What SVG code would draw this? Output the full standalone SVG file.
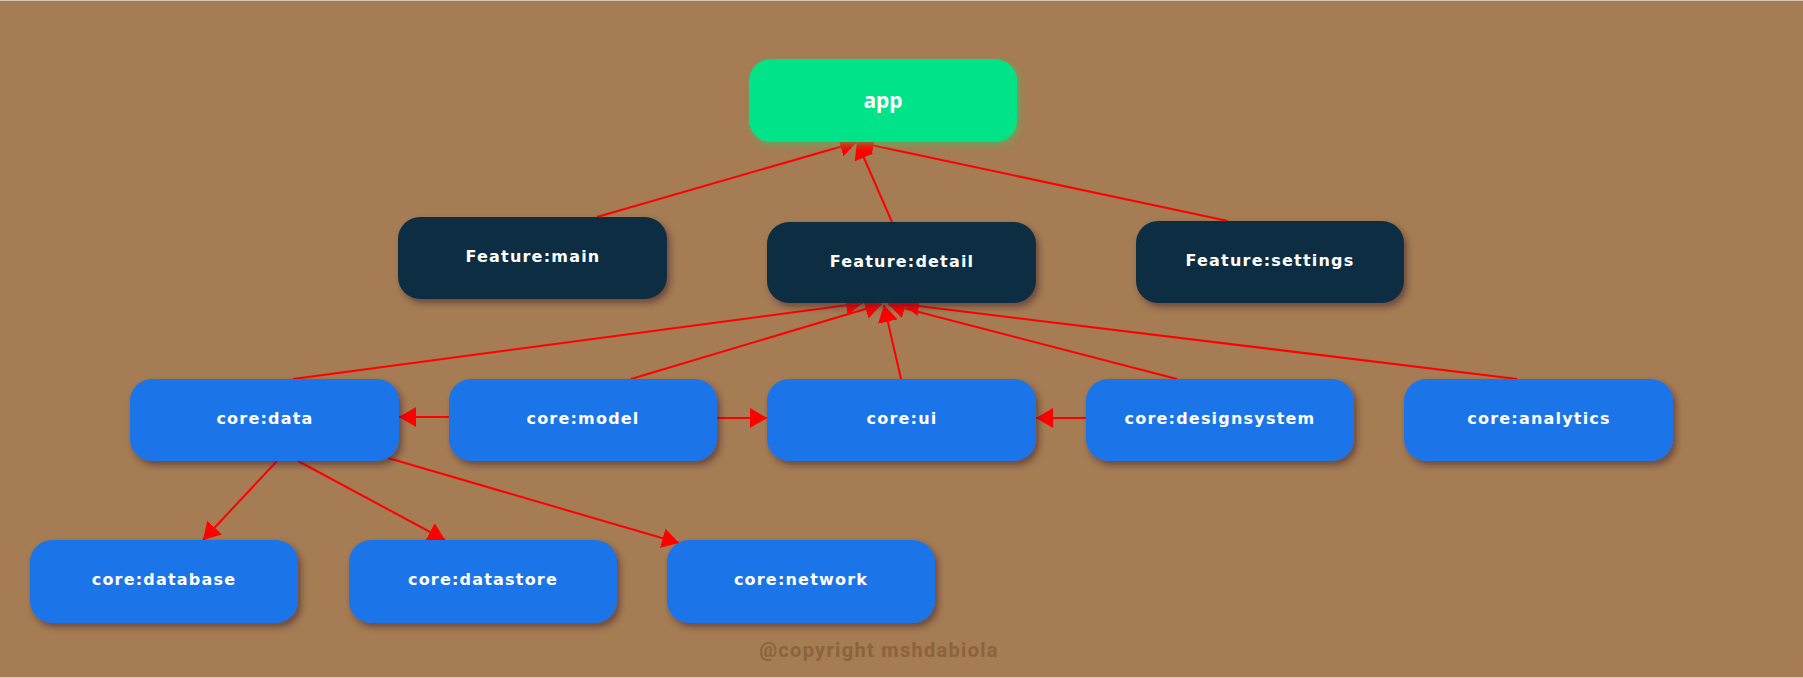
<svg xmlns="http://www.w3.org/2000/svg" width="1803" height="678" viewBox="0 0 1803 678">
  <style>
    .node-text { font-family: "DejaVu Sans", "Liberation Sans", sans-serif; font-weight: bold; font-size: 16px; letter-spacing: 1.2px; fill: #ffffff; text-anchor: middle; }
    .app-text { font-family: "Noto Sans", "DejaVu Sans", sans-serif; font-weight: bold; font-size: 21px; fill: #ffffff; text-anchor: middle; }
    .feature { fill: #082E42; filter: url(#shadow); }
    .core { fill: #1C74E8; filter: url(#shadow); }
    .app { fill: #00E389; filter: url(#glow); }
    .edge { stroke: #FF0000; stroke-width: 2; fill: none; marker-end: url(#arrow); }
    .copy { font-family: Roboto, "Liberation Sans", sans-serif; font-weight: bold; font-size: 20px; letter-spacing: 1.3px; fill: #8C633A; text-anchor: middle; }
  </style>
  <defs>
    <filter id="shadow" x="-10%" y="-20%" width="125%" height="150%">
      <feDropShadow dx="3" dy="4" stdDeviation="3" flood-color="#3b2230" flood-opacity="0.55"/>
    </filter>
    <filter id="glow" x="-10%" y="-20%" width="125%" height="150%">
      <feDropShadow dx="2" dy="3" stdDeviation="3" flood-color="#40c060" flood-opacity="0.6"/>
    </filter>
    <marker id="arrow" markerUnits="userSpaceOnUse" viewBox="0 0 17 20" refX="17" refY="10" markerWidth="17" markerHeight="20" orient="auto">
      <path d="M0,0 L17,10 L0,20 z" fill="#FF0000"/>
    </marker>
  </defs>

  <rect x="0" y="0" width="1803" height="678" fill="#A57C53"/>
  <rect x="0" y="0" width="1803" height="1" fill="#d6c7b8"/>
  <rect x="0" y="677" width="1803" height="1" fill="#d6c7b8"/>

  <g id="connectors">
    <path class="edge" d="M597,217 L857,142"/>
    <path class="edge" d="M892,222 L857,142"/>
    <path class="edge" d="M1228,221 L857,142"/>
    <path class="edge" d="M293,379 L863,303"/>
    <path class="edge" d="M631,379 L882,304"/>
    <path class="edge" d="M901,379 L884,305"/>
    <path class="edge" d="M1177,379 L888,304"/>
    <path class="edge" d="M1517,379 L902,304"/>
    <path class="edge" d="M449,417 L399,417"/>
    <path class="edge" d="M717,418 L767,418"/>
    <path class="edge" d="M1086,418 L1036,418"/>
    <path class="edge" d="M277,461 L203,540"/>
    <path class="edge" d="M298,461 L445,540"/>
    <path class="edge" d="M388,458 L679,543"/>
  </g>

  <g id="app">
    <rect class="app" x="749" y="59" width="268" height="83" rx="22"/>
    <text class="app-text" x="883" y="108">app</text>
  </g>

  <g id="feature-main">
    <rect class="feature" x="398" y="217" width="269" height="82" rx="22"/>
    <text class="node-text" x="533" y="262">Feature:main</text>
  </g>
  <g id="feature-detail">
    <rect class="feature" x="767" y="222" width="269" height="81" rx="22"/>
    <text class="node-text" x="902" y="267">Feature:detail</text>
  </g>
  <g id="feature-settings">
    <rect class="feature" x="1136" y="221" width="268" height="82" rx="22"/>
    <text class="node-text" x="1270" y="266">Feature:settings</text>
  </g>

  <g id="core-data">
    <rect class="core" x="130" y="379" width="269" height="82" rx="22"/>
    <text class="node-text" x="265" y="424">core:data</text>
  </g>
  <g id="core-model">
    <rect class="core" x="449" y="379" width="268" height="82" rx="22"/>
    <text class="node-text" x="583" y="424">core:model</text>
  </g>
  <g id="core-ui">
    <rect class="core" x="767" y="379" width="269" height="82" rx="22"/>
    <text class="node-text" x="902" y="424">core:ui</text>
  </g>
  <g id="core-designsystem">
    <rect class="core" x="1086" y="379" width="268" height="82" rx="22"/>
    <text class="node-text" x="1220" y="424">core:designsystem</text>
  </g>
  <g id="core-analytics">
    <rect class="core" x="1404" y="379" width="269" height="82" rx="22"/>
    <text class="node-text" x="1539" y="424">core:analytics</text>
  </g>

  <g id="core-database">
    <rect class="core" x="30" y="540" width="268" height="83" rx="22"/>
    <text class="node-text" x="164" y="585">core:database</text>
  </g>
  <g id="core-datastore">
    <rect class="core" x="349" y="540" width="268" height="83" rx="22"/>
    <text class="node-text" x="483" y="585">core:datastore</text>
  </g>
  <g id="core-network">
    <rect class="core" x="667" y="540" width="268" height="83" rx="22"/>
    <text class="node-text" x="801" y="585">core:network</text>
  </g>

  <text class="copy" x="879" y="657">@copyright mshdabiola</text>
</svg>
